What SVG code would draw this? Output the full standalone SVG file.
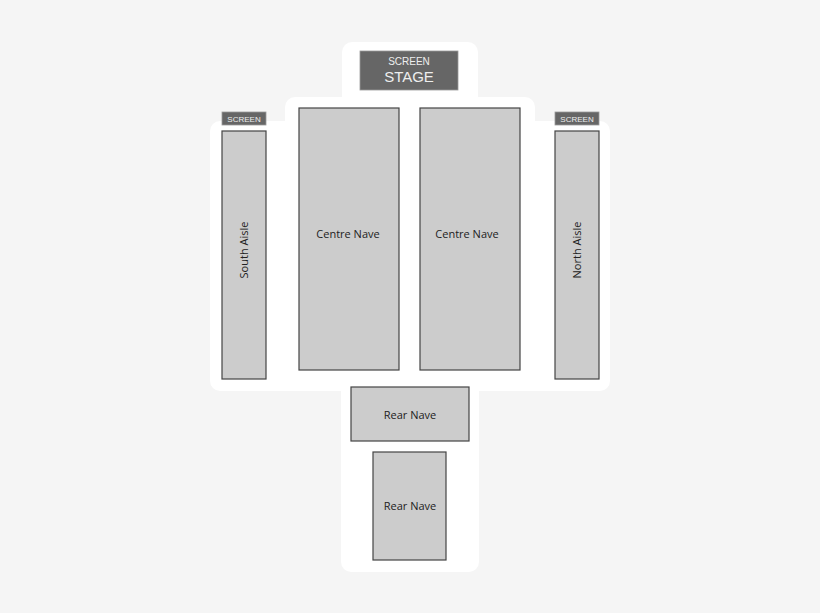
<svg xmlns="http://www.w3.org/2000/svg" width="820" height="613" viewBox="0 0 820 613">
<style>
.w{fill:#fff}
.sec{fill:#ccc;stroke:#444;stroke-width:1.2}
.dk{fill:#666;stroke:#999;stroke-width:0.8}
.t{font-family:"Open Sans","Liberation Sans",sans-serif;font-size:11px;fill:#222;text-anchor:middle}
.s{font-family:"Liberation Sans",Arial,sans-serif;fill:#eee;text-anchor:middle}
</style>
<rect width="820" height="613" fill="#f5f5f5"/>
<g id="floor">
<rect class="w" x="342" y="42" width="136" height="120" rx="10"/>
<rect class="w" x="285" y="97" width="250" height="200" rx="10"/>
<rect class="w" x="210" y="121" width="400" height="270" rx="10"/>
<rect class="w" x="341" y="300" width="138" height="272" rx="10"/>
</g>
<g id="stage">
<rect class="dk" x="360" y="51" width="98" height="39"/>
<text class="s" x="409" y="65" font-size="10">SCREEN</text>
<text class="s" x="409" y="82" font-size="15">STAGE</text>
</g>
<g id="screen-left"><rect class="dk" x="222" y="112" width="44" height="13"/><text class="s" x="244" y="122" font-size="8">SCREEN</text></g>
<g id="screen-right"><rect class="dk" x="555" y="112" width="44" height="13"/><text class="s" x="577" y="122" font-size="8">SCREEN</text></g>
<g id="south-aisle"><rect class="sec" x="222" y="131" width="44" height="248"/><text class="t" transform="translate(248,250) rotate(-90)">South Aisle</text></g>
<g id="centre-nave-1"><rect class="sec" x="299" y="108" width="100" height="262"/><text class="t" x="348" y="238">Centre Nave</text></g>
<g id="centre-nave-2"><rect class="sec" x="420" y="108" width="100" height="262"/><text class="t" x="467" y="238">Centre Nave</text></g>
<g id="north-aisle"><rect class="sec" x="555" y="131" width="44" height="248"/><text class="t" transform="translate(581,250) rotate(-90)">North Aisle</text></g>
<g id="rear-nave-1"><rect class="sec" x="351" y="387" width="118" height="54"/><text class="t" x="410" y="419">Rear Nave</text></g>
<g id="rear-nave-2"><rect class="sec" x="373" y="452" width="73" height="108"/><text class="t" x="410" y="510">Rear Nave</text></g>
<g id="connectors"/>
</svg>
